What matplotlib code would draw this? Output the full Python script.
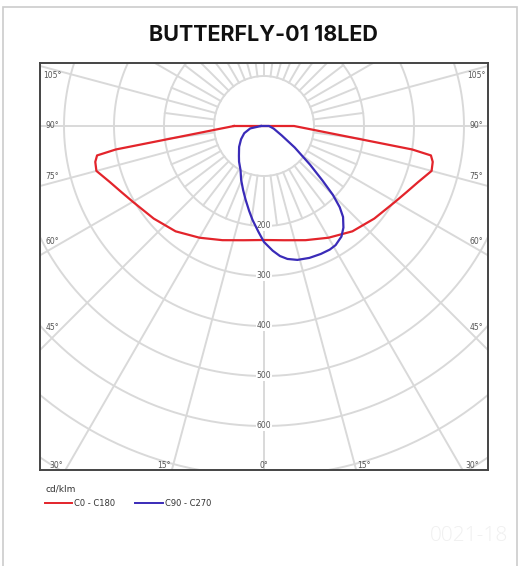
"""Polar light distribution chart for BUTTERFLY-01 18LED."""
import numpy as np
import matplotlib.pyplot as plt
from matplotlib.lines import Line2D
from matplotlib.patches import Rectangle

W, H = 520, 566

TITLE = "BUTTERFLY-01 18LED"
UNIT = "cd/klm"
RED_NAME = "C0 - C180"
BLUE_NAME = "C90 - C270"
WATERMARK = "0021-18"

# C0 - C180 (symmetric), gamma in degrees from nadir, intensity in cd/klm
RED_GAMMA = [0, 10, 20, 30, 40, 50, 60, 65, 70, 75, 78, 80, 81, 82, 84, 86, 88, 90]
RED_I = [228, 232, 243, 258, 275, 288, 303, 314, 328, 347, 345, 339, 300, 207, 128, 93, 73, 60]

# C90 - C270, negative gamma = C270 side
BLUE_GAMMA = [-90, -80, -70, -60, -50, -40, -35, -28, -23, -18, -14, -10, -7, -3, 0,
              4, 7, 10, 14, 19, 24, 28, 31, 35, 38, 41, 43, 45, 47, 50, 55, 62, 75, 90]
BLUE_I = [6, 28, 42, 53, 65, 78, 87, 100, 117, 135, 152, 172, 189, 212, 232,
          250, 262, 270, 276, 279, 280, 280, 278, 270, 258, 241, 222, 195, 160, 120, 75, 40, 20, 10]

RINGS = [100, 200, 300, 400, 500, 600, 700, 800, 900, 1000]
RING_LABELS = [200, 300, 400, 500, 600]
SIDE_ANGLES = [45, 60, 75, 90, 105]
BOTTOM_ANGLES = [0, 15, 30]

GRID = "#d9d9d9"
RED = "#e3242b"
BLUE = "#3a2bb8"
LABEL = "#555555"


def fx(px):
    return px / W


def fy(py):
    return 1 - py / H


def polar_xy(gamma, intensity):
    g = np.radians(np.asarray(gamma, dtype=float))
    r = np.asarray(intensity, dtype=float)
    return r * np.sin(g), -r * np.cos(g)


fig = plt.figure(figsize=(W / 100, H / 100), dpi=100)
fig.patch.set_facecolor("white")

# card border
fig.patches.append(Rectangle((fx(3), fy(H + 10)), fx(514), (H + 3) / H,
                             transform=fig.transFigure, fill=False,
                             edgecolor="#cccccc", linewidth=1.2))

fig.text(fx(263), fy(35), TITLE, ha="center", va="center",
         fontsize=15.5, fontweight="bold", family="Inter", color="#111111")

# plot frame: 2 cd/klm per pixel, centre at (264, 126)
left, right, top, bottom = 40, 488, 63, 470
ax = fig.add_axes([fx(left), fy(bottom), (right - left) / W, (bottom - top) / H])
ax.set_xlim(-448, 448)
ax.set_ylim(-688, 126)
ax.set_xticks([])
ax.set_yticks([])
for s in ax.spines.values():
    s.set_color("#444444")
    s.set_linewidth(1.4)

t = np.linspace(0, 2 * np.pi, 400)
for r in RINGS:
    ax.plot(r * np.cos(t), r * np.sin(t), color=GRID, lw=1.4, zorder=1)

for a in np.arange(0, 360, 15):
    x, y = polar_xy([a, a], [100, 1400])
    ax.plot(x, y, color=GRID, lw=1.4, zorder=1)
for a in np.arange(7.5, 360, 15):
    x, y = polar_xy([a, a], [100, 200])
    ax.plot(x, y, color=GRID, lw=1.4, zorder=1)

for v in RING_LABELS:
    ax.text(0, -v, str(v), ha="center", va="center", fontsize=5.5, color=LABEL,
            bbox=dict(facecolor="white", edgecolor="none", pad=0.6), zorder=2)

for a in SIDE_ANGLES:
    d = 1.5 if a < 90 else (-1.5 if a > 90 else 0)
    g = np.radians(a + d)
    for sgn in (-1, 1):
        ax.text(sgn * 424, -424 / np.tan(g), f"{a}°", ha="center", va="center",
                fontsize=5.5, color=LABEL, zorder=2)
for a in BOTTOM_ANGLES:
    d = 1.5 if a > 0 else 0
    g = np.radians(a + d)
    for sgn in ((-1, 1) if a else (1,)):
        ax.text(sgn * 678 * np.tan(g), -678, f"{a}°", ha="center", va="center",
                fontsize=5.5, color=LABEL, zorder=2)

# C0 - C180 curve, mirrored onto C180 side
g_full = [-g for g in RED_GAMMA[::-1]] + RED_GAMMA[1:]
i_full = RED_I[::-1] + RED_I[1:]
rx, ry = polar_xy(g_full, i_full)
ax.plot(np.append(rx, rx[0]), np.append(ry, ry[0]), color=RED, lw=1.6, zorder=3)

bx, by = polar_xy(BLUE_GAMMA, BLUE_I)
ax.plot(np.append(bx, bx[0]), np.append(by, by[0]), color=BLUE, lw=1.6, zorder=4)

# legend
fig.text(fx(45), fy(489), UNIT, ha="left", va="center", fontsize=6.5, color="#333333")
fig.add_artist(Line2D([fx(45), fx(72)], [fy(503), fy(503)], color=RED, lw=1.4))
fig.text(fx(74), fy(503), RED_NAME, ha="left", va="center", fontsize=6, color="#333333")
fig.add_artist(Line2D([fx(135), fx(163)], [fy(503), fy(503)], color=BLUE, lw=1.4))
fig.text(fx(165), fy(503), BLUE_NAME, ha="left", va="center", fontsize=6, color="#333333")

fig.text(fx(469), fy(536), WATERMARK, ha="center", va="center", fontsize=15,
         family="Open Sans", fontweight="light", color="#f0f0f0")

fig.savefig("out.png", dpi=100)
